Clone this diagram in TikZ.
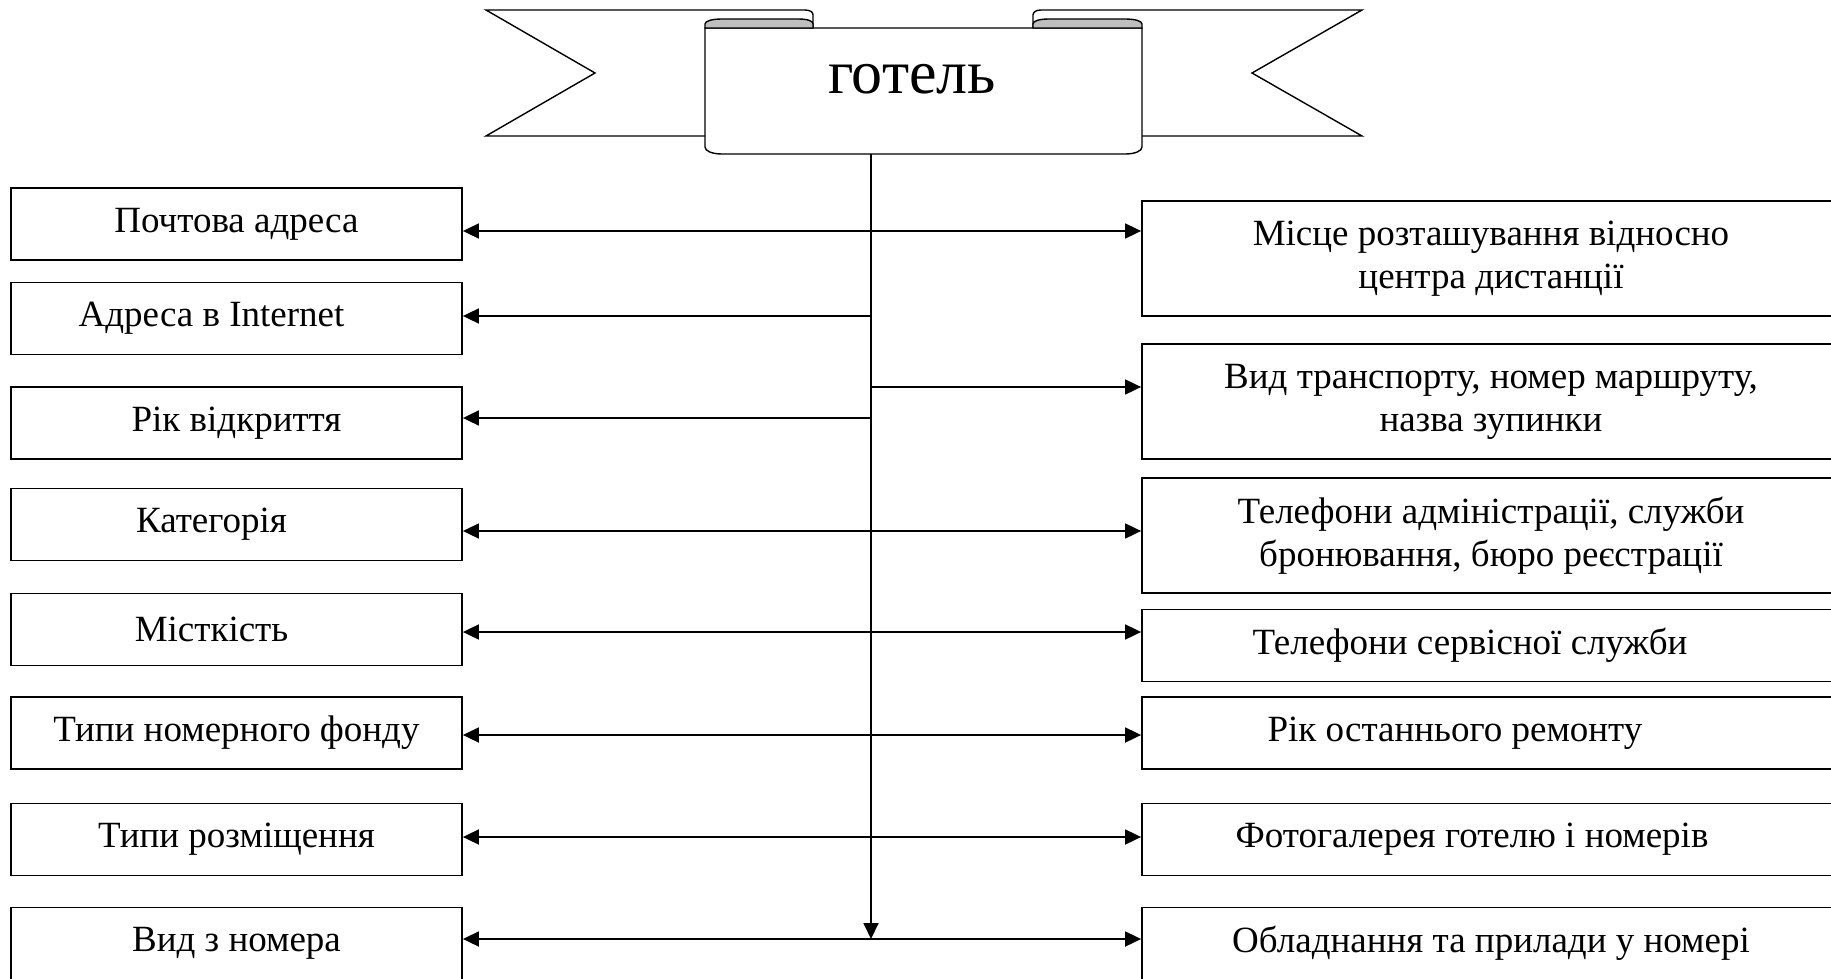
\documentclass[tikz,border=0pt]{standalone}
\usepackage{fontspec}
\setmainfont{Liberation Serif}
\usetikzlibrary{arrows.meta}

\begin{document}
\begin{tikzpicture}[x=0.5pt, y=-0.5pt, line width=0.9pt,
  >={Triangle[length=8pt,width=7.5pt]},
  lbox/.style={draw, rectangle, minimum width=225.5pt, minimum height=36pt, inner sep=2pt, font=\fontsize{18.5}{21.5}\selectfont},
  rbox/.style={draw, rectangle, minimum width=349pt, minimum height=36pt, inner sep=2pt, align=center, font=\fontsize{18.5}{21.5}\selectfont},
  tall/.style={minimum height=57.5pt},
  roll/.style={draw, line width=0.7pt, fill=white},
  fold/.style={draw, line width=0.7pt, fill=black!25}]
\useasboundingbox (0,0) rectangle (1831,979);
\clip (0,0) rectangle (1831,979);
% ribbon
\path[roll] (486,10) -- (805,10) .. controls (810,10) and (813,12) .. (813,15) -- (813,136) -- (486,136) -- (595,73) -- cycle;
\path[roll] (1362,10) -- (1041,10) .. controls (1036,10) and (1033,12) .. (1033,15) -- (1033,136) -- (1362,136) -- (1252,73) -- cycle;
\path[roll] (705,28) -- (705,147) .. controls (705,151) and (712,154) .. (722,154) -- (1125,154) .. controls (1135,154) and (1142,151) .. (1142,147) -- (1142,28) -- cycle;
\path[fold] (705,28) -- (705,24) .. controls (705,21) and (712,19) .. (722,19) -- (798,19) .. controls (808,19) and (813,21) .. (813,24) -- (813,28) -- cycle;
\path[fold] (1142,28) -- (1142,24) .. controls (1142,21) and (1135,19) .. (1125,19) -- (1049,19) .. controls (1039,19) and (1033,21) .. (1033,24) -- (1033,28) -- cycle;
\node[font=\fontsize{31}{36}\selectfont] (hotel) at (912,79) {готель};
% left column
\node[lbox] (l1) at (236.5,224) {Почтова адреса};
\node[lbox] (l2) at (236.5,318.5) {\hspace*{-25pt}Адреса в Internet};
\node[lbox] (l3) at (236.5,423) {Рік відкриття};
\node[lbox] (l4) at (236.5,524.5) {\hspace*{-25pt}Категорія};
\node[lbox] (l5) at (236.5,629.5) {\hspace*{-25pt}Місткість};
\node[lbox] (l6) at (236.5,733) {Типи номерного фонду};
\node[lbox] (l7) at (236.5,839.5) {Типи розміщення};
\node[lbox] (l8) at (236.5,943.5) {Вид з номера};
% right column
\node[rbox, tall] (r1) at (1491,258.5) {Місце розташування відносно\\центра дистанції};
\node[rbox, tall] (r2) at (1491,401.5) {Вид транспорту, номер маршруту,\\назва зупинки};
\node[rbox, tall] (r3) at (1491,535.5) {Телефони адміністрації, служби\\бронювання, бюро реєстрації};
\node[rbox] (r4) at (1491,645.5) {\hspace*{-21pt}Телефони сервісної служби};
\node[rbox] (r5) at (1491,733) {\hspace*{-36pt}Рік останнього ремонту};
\node[rbox] (r6) at (1491,839.5) {\hspace*{-19pt}Фотогалерея готелю і номерів};
\node[rbox] (r7) at (1491,943.5) {Обладнання та прилади у номері};
% trunk
\coordinate (t0) at (871,154);
\coordinate (a1) at (871,231);
\coordinate (a2) at (871,316);
\coordinate (a3) at (871,387);
\coordinate (a4) at (871,418);
\coordinate (a5) at (871,531);
\coordinate (a6) at (871,632);
\coordinate (a7) at (871,735);
\coordinate (a8) at (871,837);
\coordinate (a9) at (871,939);
\draw [->](t0) -- (a9);
\draw [<->](a1 -| l1.east) -- (a1 -| r1.west);
\draw [->](a2) -- (a2 -| l2.east);
\draw [->](a3) -- (a3 -| r2.west);
\draw [->](a4) -- (a4 -| l3.east);
\draw [<->](a5 -| l4.east) -- (a5 -| r3.west);
\draw [<->](a6 -| l5.east) -- (a6 -| r4.west);
\draw [<->](a7 -| l6.east) -- (a7 -| r5.west);
\draw [<->](a8 -| l7.east) -- (a8 -| r6.west);
\draw [<->](a9 -| l8.east) -- (a9 -| r7.west);
\end{tikzpicture}
\end{document}
